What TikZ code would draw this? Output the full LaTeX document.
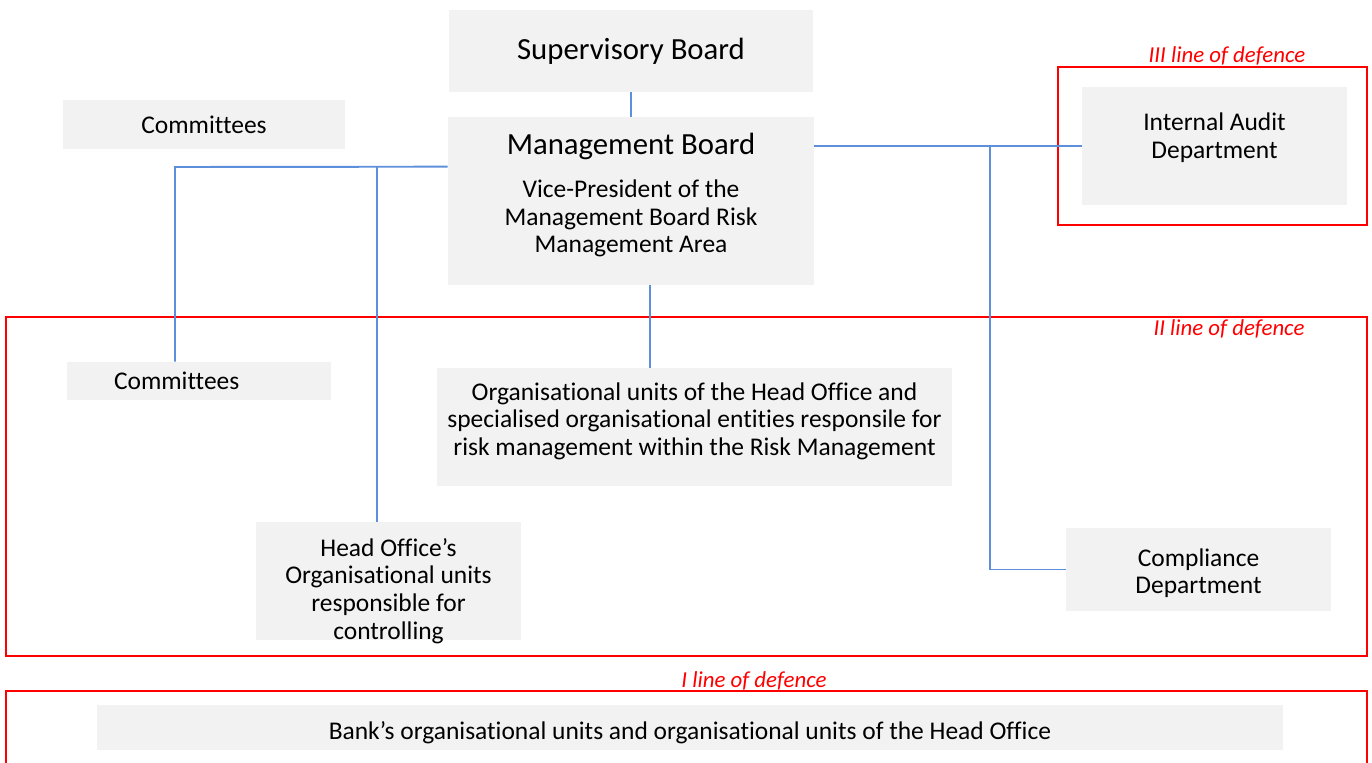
\documentclass[tikz,border=0pt]{standalone}
\usepackage{fontspec}
\setmainfont[Ligatures=NoCommon]{Carlito}
\usepackage{tikz}
\usetikzlibrary{positioning,calc}
\definecolor{boxgray}{RGB}{242,242,242}
\definecolor{linkblue}{RGB}{94,143,218}
\definecolor{defred}{RGB}{255,0,0}
\tikzset{
  unitbox/.style={fill=boxgray, inner sep=2pt, align=center, font=\fontsize{14.5}{15.8}\selectfont},
  titlebox/.style={unitbox, font=\fontsize{17.5}{20}\selectfont},
  link/.style={draw=linkblue, line width=1.1pt},
  defbox/.style={draw=defred, line width=0.6pt},
  deflabel/.style={text=defred, inner sep=0pt, font=\fontsize{13}{15}\selectfont\itshape}
}
\begin{document}
\begin{tikzpicture}[x=0.02cm, y=-0.02cm]
  \useasboundingbox (0,0) rectangle (1372,762);

  % Top of the structure
  \node[titlebox, minimum width=7.28cm, minimum height=1.64cm] (sup) at (631,51) {Supervisory Board};
  \node[unitbox, minimum width=7.32cm, minimum height=3.36cm] (mgmt) at (631,201) {{\fontsize{17.5}{20}\selectfont Management Board}\\[8.4pt]Vice-President of the\\Management Board Risk\\Management Area\\[-7pt]\mbox{}};
  \node[unitbox, minimum width=5.64cm, minimum height=0.98cm] (comtop) at (204,124.5) {Committees};

  % III line of defence
  \draw[defbox] (1058,67) rectangle (1367,225);
  \node[deflabel] (lod3) at (1227,56) {III line of defence};
  \node[unitbox, minimum width=5.3cm, minimum height=2.36cm] (audit) at (1214.5,146) {Internal Audit\\Department\\[-4.4pt]\mbox{}};

  % II line of defence
  \draw[defbox] (6,317) rectangle (1367,656);
  \node[deflabel] (lod2) at (1229,329) {II line of defence};
  \node[unitbox, minimum height=0.76cm, text width=3.4cm, inner xsep=0.94cm, align=left] (comlow) at (199,381) {Committees};
  \node[unitbox, minimum width=10.3cm, minimum height=2.36cm] (riskunits) at (694.5,427) {Organisational units of the Head Office and\\specialised organisational entities responsile for\\risk management within the Risk Management\\[-6.8pt]\mbox{}};
  \node[unitbox, minimum width=5.3cm, minimum height=2.36cm] (control) at (388.5,581) {Head Office's\\Organisational units\\responsible for\\controlling\\[-24.7pt]\mbox{}};
  \node[unitbox, minimum width=5.3cm, minimum height=1.66cm] (compliance) at (1198.5,569.5) {\mbox{}\\[-1.5pt]Compliance\\Department};

  % I line of defence
  \draw[defbox] (6,691) rectangle (1367,780);
  \node[deflabel] (lod1) at (754,681) {I line of defence};
  \node[unitbox, minimum width=23.72cm, minimum height=0.9cm] (bank) at (690,727.5) {\mbox{}\\[0.4pt]Bank's organisational units and organisational units of the Head Office};

  % Connectors
  \coordinate (ljoin) at ($(mgmt.north west)+(0,50)$);
  \coordinate (comtap) at (175,167);
  \coordinate (ctrltap) at (377,167);
  \coordinate (rsplit) at (990,146);
  \draw[link] (sup.south) -- (mgmt.north);
  \draw[link] (audit.west) -- (audit.west -| mgmt.east);
  \draw[link] (rsplit) |- (compliance.west);
  \draw[link] (ljoin) -- (comtap) -- (comtap |- comlow.north);
  \draw[link] (ctrltap) -- (ctrltap |- control.north);
  \draw[link] (mgmt.south -| 650,0) -- (riskunits.north -| 650,0);
\end{tikzpicture}
\end{document}
